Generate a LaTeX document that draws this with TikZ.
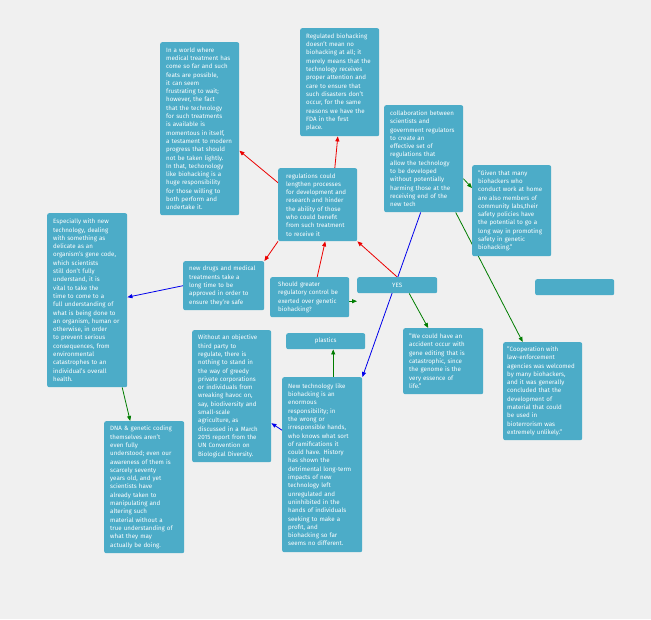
\documentclass[tikz,border=0pt]{standalone}
\usepackage{fontspec}
\setmainfont{Fira Sans}
\usepackage{tikz}
\usetikzlibrary{arrows.meta}
\definecolor{cardblue}{RGB}{76,172,200}
\definecolor{pagegray}{RGB}{240,240,240}
\definecolor{linkred}{RGB}{235,0,0}
\definecolor{linkblue}{RGB}{0,0,235}
\definecolor{linkgreen}{RGB}{0,125,0}
\pgfdeclarelayer{backdrop}
\pgfdeclarelayer{links}
\pgfsetlayers{backdrop,links,main}
\begin{document}
\begin{tikzpicture}[x=1pt, y=-1pt,
    card/.style={fill=cardblue, rounded corners=2pt, text=white, align=left,
        anchor=north west, inner xsep=6pt, inner ysep=0pt,
        font=\fontsize{6.2}{8.3}\selectfont,
        execute at begin node={\hyphenpenalty=10000\relax\exhyphenpenalty=10000\relax}},
    link/.style={-{Triangle[length=5pt, width=4pt]}, line width=0.8pt}]
    % Page
    \begin{pgfonlayer}{backdrop}
        \fill[pagegray] (0,0) rectangle (651,619);
    \end{pgfonlayer}
    \useasboundingbox (0,0) rectangle (651,619);

    % Nodes with text
    \node[card, text width=67pt, minimum height=173pt] (world) at (160,42) {In a world where\\medical treatment has\\come so far and such\\feats are possible,\\it can seem\\frustrating to wait;\\however, the fact\\that the technology\\for such treatments\\is available is\\momentous in itself,\\a testament to modern\\progress that should\\not be taken lightly.\\In that, techonology\\like biohacking is a\\huge responsibility\\for those willing to\\both perform and\\undertake it.};
    \node[card, text width=67pt, minimum height=108pt] (regulated) at (300,28) {Regulated biohacking\\doesn't mean no\\biohacking at all; it\\merely means that the\\technology receives\\proper attention and\\care to ensure that\\such disasters don't\\occur, for the same\\reasons we have the\\FDA in the first\\place.};
    \node[card, text width=67pt, minimum height=107pt] (collab) at (384,105) {collaboration between\\scientists and\\government regulators\\to create an\\effective set of\\regulations that\\allow the technology\\to be developed\\without potentially\\harming those at the\\receiving end of the\\new tech};
    \node[card, text width=67pt, minimum height=91pt] (labs) at (472,165) {"Given that many\\biohackers who\\conduct work at home\\are also members of\\community labs,their\\safety policies have\\the potential to go a\\long way in promoting\\safety in genetic\\biohacking."};
    \node[card, text width=63pt, inner xsep=8pt, minimum height=73pt] (lengthen) at (278,168) {regulations could\\lengthen processes\\for development and\\research and hinder\\the ability of those\\who could benefit\\from such treatment\\to receive it};
    \node[card, text width=68pt, minimum height=174pt] (delicate) at (47,213) {Especially with new\\technology, dealing\\with something as\\delicate as an\\organism's gene code,\\which scientists\\still don't fully\\understand, it is\\vital to take the\\time to come to a\\full understanding of\\what is being done to\\an organism, human or\\otherwise, in order\\to prevent serious\\consequences, from\\environmental\\catastrophes to an\\individual's overall\\health.};
    \node[card, text width=69pt, minimum height=49pt] (drugs) at (183,261) {new drugs and medical\\treatments take a\\long time to be\\approved in order to\\ensure they're safe};
    \node[card, text width=63pt, inner xsep=8pt, minimum height=40pt] (question) at (270,277) {Should greater\\regulatory control be\\exerted over genetic\\biohacking?};
    \node[card, text width=68pt, align=center, minimum height=16pt] (yes) at (357,277) {YES};
    \node[card, text width=67pt, minimum height=16pt] (blank) at (535,279) {};
    \node[card, text width=67pt, minimum height=132pt] (greedy) at (192,330) {Without an objective\\third party to\\regulate, there is\\nothing to stand in\\the way of greedy\\private corporations\\or individuals from\\wreaking havoc on,\\say, biodiversity and\\small-scale\\agriculture, as\\discussed in a March\\2015 report from the\\UN Convention on\\Biological Diversity.};
    \node[card, text width=67pt, align=center, minimum height=16pt] (plastics) at (286,333) {plastics};
    \node[card, text width=68pt, minimum height=66pt] (accident) at (403,328) {"We could have an\\accident occur with\\gene editing that is\\catastrophic, since\\the genome is the\\very essence of\\life."};
    \node[card, text width=71pt, inner xsep=4pt, minimum height=98pt] (police) at (503,342) {"Cooperation with\\law-enforcement\\agencies was welcomed\\by many biohackers,\\and it was generally\\concluded that the\\development of\\material that could\\be used in\\bioterrorism was\\extremely unlikely."};
    \node[card, text width=68pt, minimum height=175pt] (newtech) at (282,377) {New technology like\\biohacking is an\\enormous\\responsibility; in\\the wrong or\\irresponsible hands,\\who knows what sort\\of ramifications it\\could have. History\\has shown the\\detrimental long-term\\impacts of new\\technology left\\unregulated and\\uninhibited in the\\hands of individuals\\seeking to make a\\profit, and\\biohacking so far\\seems no different.};
    \node[card, text width=68pt, minimum height=132pt] (dna) at (104,421) {DNA \& genetic coding\\themselves aren't\\even fully\\understood; even our\\awareness of them is\\scarcely seventy\\years old, and yet\\scientists have\\already taken to\\manipulating and\\altering such\\material without a\\true understanding of\\what they may\\actually be doing.};

    % Edges with arrows
    \begin{pgfonlayer}{links}
        \draw[link, linkred] (lengthen.151) -- (world.-29);
        \draw[link, linkred] (lengthen.65) -- (regulated.-92);
        \draw[link, linkred] (lengthen.south west) -- (drugs.north east);
        \draw[link, linkred] ([xshift=7.5pt]question.north) -- ([xshift=7.5pt]lengthen.south);
        \draw[link, linkred] (yes.north) -- (lengthen.south east);
        \draw[link, linkgreen] ([yshift=-4pt]question.east) -- ([yshift=-4pt]question.east -| yes.west);
        \draw[link, linkgreen] ([xshift=12pt]yes.south) -- ([xshift=-15pt]accident.north);
        \draw[link, linkgreen] ([yshift=-20pt]collab.east) -- ([yshift=-23pt]labs.north west);
        \draw[link, linkgreen] ([xshift=32pt]collab.south) -- ([xshift=-20pt]police.north);
        \draw[link, linkblue] ([xshift=-3pt]collab.south) -- (newtech.north east);
        \draw[link, linkgreen] ([xshift=11pt]newtech.north) -- ([xshift=7.5pt]plastics.south);
        \draw[link, linkblue] (drugs.west) -- ([yshift=3pt]delicate.east);
        \draw[link, linkgreen] ([xshift=35pt]delicate.south) -- ([xshift=-14pt]dna.north);
        \draw[link, linkblue] ([yshift=34.5pt]newtech.west) -- ([yshift=-27pt]greedy.east);
    \end{pgfonlayer}
\end{tikzpicture}
\end{document}
